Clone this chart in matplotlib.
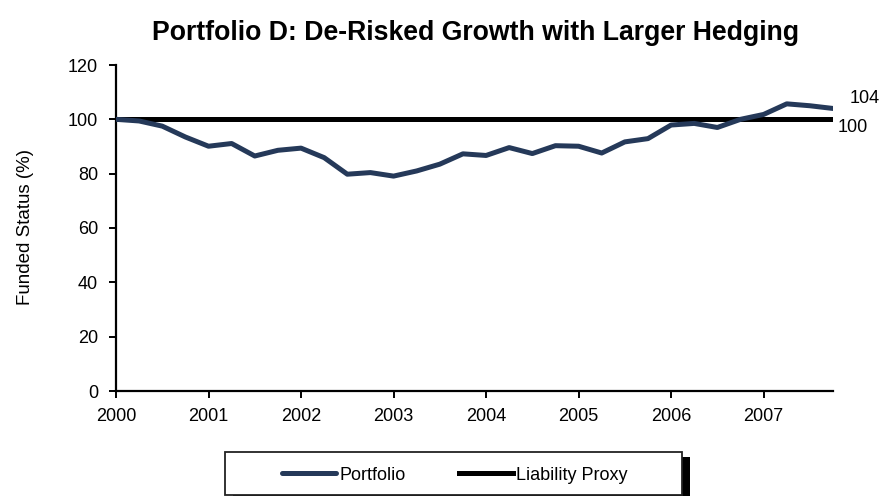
import matplotlib
matplotlib.use("Agg")
import matplotlib.pyplot as plt
from matplotlib.patches import Rectangle
import numpy as np

plt.rcParams['font.family'] = ['Liberation Sans', 'DejaVu Sans']

years = [2000, 2001, 2002, 2003, 2004, 2005, 2006, 2007]
portfolio = [100.0, 99.4, 97.5, 93.5, 90.1, 91.1, 86.5, 88.6,
             89.4, 85.9, 79.8, 80.4, 79.1, 81.0, 83.5, 87.3,
             86.7, 89.6, 87.4, 90.3, 90.1, 87.6, 91.7, 92.9,
             97.9, 98.5, 97.0, 100.0, 101.8, 105.7, 105.0, 104.0]
liability = [100.0] * len(portfolio)
end_labels = ["104", "100"]

x = np.arange(len(portfolio))
W, H = 888, 496

fig = plt.figure(figsize=(W / 100, H / 100), dpi=100)
ax = fig.add_axes([116 / W, 1 - 391 / H, (833 - 116) / W, (391 - 65) / H])

navy = '#253959'
ax.plot(x, portfolio, color=navy, lw=3.6, solid_capstyle='round', solid_joinstyle='round',
        label='Portfolio', zorder=3)
ax.plot(x, liability, color='black', lw=3.6, label='Liability Proxy', zorder=2)

ax.set_xlim(0, len(portfolio) - 1)
ax.set_ylim(0, 120)
ax.set_yticks(range(0, 121, 20))
ax.set_xticks(x[::4])
ax.set_xticklabels([str(y) for y in years])
for s in ['top', 'right']:
    ax.spines[s].set_visible(False)
for s in ['left', 'bottom']:
    ax.spines[s].set_linewidth(1.6)
ax.tick_params(axis='both', direction='out', length=5, width=1.4, labelsize=13, colors='black')
ax.tick_params(axis='x', pad=7)
ax.tick_params(axis='y', pad=8)

ax.text(x[-1] + 0.73, 107.7, end_labels[0], fontsize=13, ha='left', va='center', clip_on=False)
ax.text(x[-1] + 0.2, 96.9, end_labels[1], fontsize=13, ha='left', va='center', clip_on=False)

fig.text(26 / W, 1 - 227 / H, 'Funded Status (%)', fontsize=13.5, rotation=90,
         ha='center', va='center')
fig.text(476 / W, 1 - 33 / H, 'Portfolio D: De-Risked Growth with Larger Hedging',
         fontsize=19.2, fontweight='bold', ha='center', va='center')

# legend box with shadow
fig.patches.append(Rectangle((233 / W, 1 - 500 / H), (682 - 225) / W, (495 - 452) / H,
                             transform=fig.transFigure, facecolor='black', edgecolor='none',
                             zorder=1))
fig.patches.append(Rectangle((225 / W, 1 - 495 / H), (682 - 225) / W, (495 - 452) / H,
                             transform=fig.transFigure, facecolor='white', edgecolor='#222222',
                             lw=1.3, zorder=2))

leg = fig.legend(loc='center', bbox_to_anchor=(455 / W, 1 - 475 / H), ncol=2, fontsize=13,
                 frameon=False, handlelength=3.0, handletextpad=0.2, columnspacing=2.9)
leg.set_zorder(5)

fig.savefig('out.png', dpi=100)
